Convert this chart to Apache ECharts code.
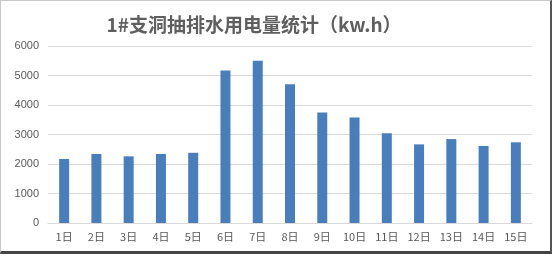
<!DOCTYPE html>
<html><head><meta charset="utf-8">
<script src="https://cdn.jsdelivr.net/npm/echarts@6/dist/echarts.min.js"></script>
<style>html,body{margin:0;padding:0;background:#fff}
#c{width:552px;height:254px;box-sizing:border-box;border:1px solid #c8c8c8;border-right:2px solid #555;border-bottom:3px solid #444}</style>
</head><body><div id="c"></div>
<script>
var categories = ['1日','2日','3日','4日','5日','6日','7日','8日','9日','10日','11日','12日','13日','14日','15日'];
var values = [2170, 2340, 2260, 2340, 2380, 5170, 5500, 4700, 3750, 3575, 3045, 2665, 2845, 2610, 2735];
var yTicks = {min: 0, max: 6000, interval: 1000};
var titleText = '1#支洞抽排水用电量统计（kw.h）';
var chart = echarts.init(document.getElementById('c'), null, {renderer: 'canvas'});
chart.setOption({
  animation: false,
  title: {text: titleText, left: 248, top: 9, textAlign: 'center',
    textStyle: {fontSize: 19, fontWeight: 'bold', color: '#5f5f5f', fontFamily: 'Noto Sans CJK SC'}},
  grid: {left: 47, right: 18, top: 45, bottom: 28},
  xAxis: {type: 'category', data: categories,
    axisLine: {lineStyle: {color: '#d9d9d9'}}, axisTick: {show: false},
    axisLabel: {color: '#595959', fontSize: 11, margin: 8, fontFamily: 'Noto Sans CJK SC'}},
  yAxis: {type: 'value', min: yTicks.min, max: yTicks.max, interval: yTicks.interval,
    axisLine: {show: false}, axisTick: {show: false},
    splitLine: {lineStyle: {color: '#d9d9d9'}},
    axisLabel: {color: '#595959', fontSize: 11, margin: 9, fontFamily: 'Liberation Sans',
      formatter: function (v) { return String(v); }}},
  series: [{type: 'bar', data: values, barWidth: '31%',
    itemStyle: {color: '#4a7ebb'}}]
});
</script></body></html>
